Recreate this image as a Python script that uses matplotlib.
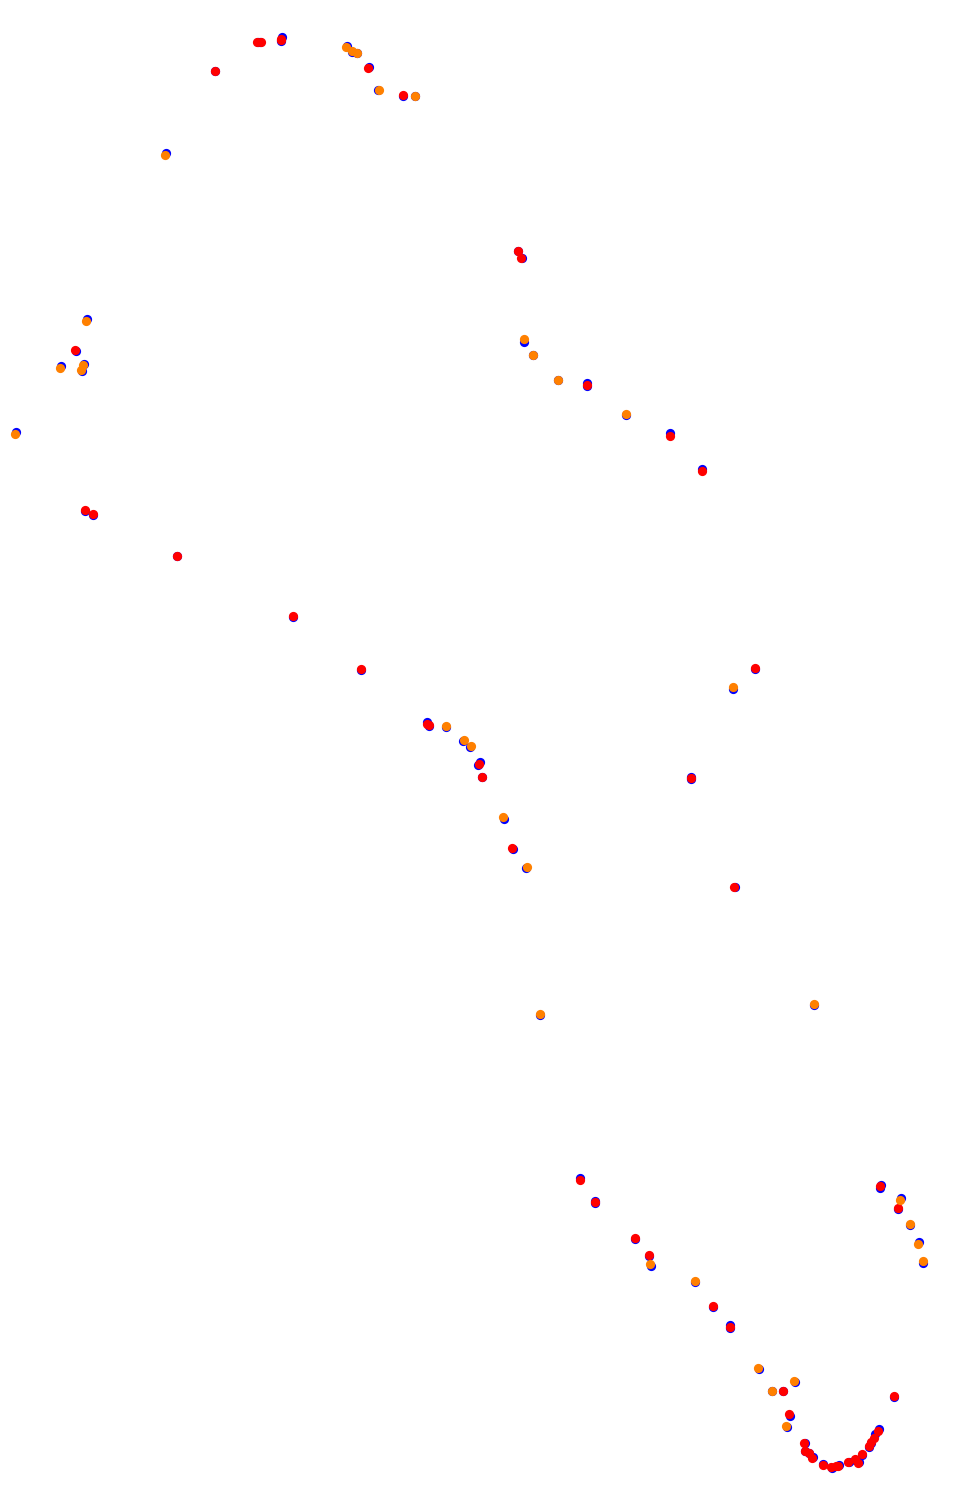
import matplotlib
matplotlib.use("Agg")
import matplotlib.pyplot as plt

blue_x = [258,260,282,281,347,352,357.5,369,378,403,415,215,166,
          87,76,61,84,82,16,85,93,177,293,361.5,
          427,429,446,463.5,470,480,478,482,504,513,526,540,814,735,691,691,733,755.5,
          702,670.5,626,587,587,558,533,524,518,522,
          580.5,595,595,635,649,651.5,695.5,713,730,730,759,772,783,795,790,787,
          805,805,809,813,823,832,839,849,855,859,862,869,871,875,879,894,
          881,880,901,898,910,919,923]
blue_y = [42,42,37.5,41,46,52,53,67.5,90.5,96.5,96.5,71.5,153.5,
          319.5,351,366.5,364,371,432,511.5,515,556,617,670,
          722,726,727,741,747,762,765,777,819,849,868,1015,1005,887.5,777,779,689,669.5,
          469,433,415,383,386,380,355,342,251,258,
          1178,1201,1203,1239,1256,1266,1282,1307,1325,1328,1369,1391,1391,1382,1416,1427,
          1443,1451,1453,1457,1464,1468,1465,1462,1460,1462,1455,1447,1443,1434,1429,1397,
          1185,1188,1198,1209,1225,1242,1263]

red_x = [257,261,281,281,368,403,215,75,85,93,177,293,361.5,427,429,479,482,512,
         734,691,755.5,702,670.5,587,518.5,521,
         580.5,595,635,649,713,730,783,789,
         804,805,809,812,823,831,836,838,848,855,858,862,869,871,874,878,894,
         880,898]
red_y = [42,42,39,40,68.5,95.5,71,350,510.5,514,556,616.5,669,724,725,764,777,848,
         887,778,668.5,471,436,385,251,258,
         1180,1202,1238.5,1255.5,1306.5,1327,1391,1414.5,
         1443,1451,1453,1458,1465,1467,1466,1466,1462,1459,1463,1454,1446,1442,1438,1431,1396,
         1186.5,1208]

orange_x = [346,352,357,379,415,165,86,60,83,81,15,446.5,464,471,503,527,540,814,733,
            626,558,533,524,650,695,758,772,794,786,900,910,918,923.5]
orange_y = [47,51,53,90,96,155,321,368,365,370,434,726,740,746,817,867,1014,1004,687,
            414,380,355,339,1264,1281,1368,1391,1381,1426,1200,1224,1244,1261]

fig = plt.figure(figsize=(9.55, 15.07), dpi=100)
ax = fig.add_axes([0, 0, 1, 1])
ax.set_xlim(0.5, 955.5)
ax.set_ylim(1507.5, 0.5)
ax.axis("off")

size = 44
ax.scatter(blue_x, blue_y, s=size, c="#0000ff", linewidths=0, zorder=2, antialiased=False)
ax.scatter(red_x, red_y, s=size, c="#ff0000", linewidths=0, zorder=3, antialiased=False)
ax.scatter(orange_x, orange_y, s=size, c="#ff8000", linewidths=0, zorder=4, antialiased=False)

fig.savefig("out.png", dpi=100, facecolor="white")
